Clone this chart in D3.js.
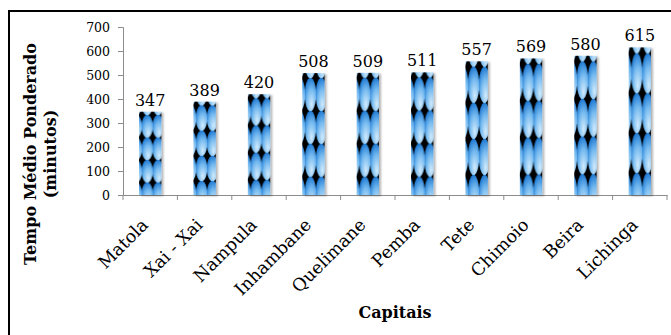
<!DOCTYPE html>
<html>
<head>
<meta charset="utf-8">
<script src="https://cdn.jsdelivr.net/npm/d3@7"></script>
<style>
  html, body { margin: 0; padding: 0; background: #fff; }
  svg { display: block; }
  text { font-family: "DejaVu Serif", "Liberation Serif", serif; fill: #000; }
</style>
</head>
<body>
<svg id="chart" width="671" height="335"></svg>
<script>
// Weighted mean time per provincial capital (minutes)
const capitais = ["Matola", "Xai - Xai", "Nampula", "Inhambane", "Quelimane",
                  "Pemba", "Tete", "Chimoio", "Beira", "Lichinga"];
const minutos = [347, 389, 420, 508, 509, 511, 557, 569, 580, 615];
const yTicks = [0, 100, 200, 300, 400, 500, 600, 700];

const svg = d3.select("#chart");
const W = 671, H = 335;
const margin = { left: 123, right: 4, top: 27, bottom: 140 };
const serif = "DejaVu Serif, Liberation Serif, serif";

const x = d3.scaleBand()
  .domain(capitais)
  .range([margin.left, W - margin.right])
  .paddingInner(0.59)
  .paddingOuter(0.295);

const y = d3.scaleLinear()
  .domain([0, 700])
  .range([H - margin.bottom, margin.top]);

const defs = svg.append("defs");

// Ellipse shading used inside the bar fill
const grad = defs.append("radialGradient")
  .attr("id", "gota")
  .attr("cx", 0.6).attr("cy", 0.72).attr("r", 0.75)
  .attr("fx", 0.6).attr("fy", 0.8);
grad.append("stop").attr("offset", "0%").attr("stop-color", "#d2ebfc");
grad.append("stop").attr("offset", "55%").attr("stop-color", "#74b9ef");
grad.append("stop").attr("offset", "100%").attr("stop-color", "#1874d0");

// Soft shadow to the right of each bar
const sh = defs.append("filter").attr("id", "sombra")
  .attr("x", "-20%").attr("y", "-5%").attr("width", "150%").attr("height", "115%");
sh.append("feDropShadow").attr("dx", 2).attr("dy", 1).attr("stdDeviation", 1.2)
  .attr("flood-color", "#000").attr("flood-opacity", 0.3);

// One stretched pattern per bar: two columns of shaded ellipses on black
const bw = x.bandwidth();
capitais.forEach((c, i) => {
  const top = y(minutos[i]);
  const bh = y(0) - top;
  const tw = bw * 0.49, th = bh * 0.27;
  const p = defs.append("pattern")
    .attr("id", "pad" + i)
    .attr("patternUnits", "userSpaceOnUse")
    .attr("x", x(c) + bw * 0.12)
    .attr("y", top + th * 0.15)
    .attr("width", tw)
    .attr("height", th);
  p.append("rect").attr("width", tw).attr("height", th).attr("fill", "#000");
  p.append("ellipse")
    .attr("cx", tw / 2).attr("cy", th / 2)
    .attr("rx", tw / 2 + 0.2).attr("ry", th / 2 + 0.3)
    .attr("fill", "url(#gota)");
});

// Outer frame
svg.append("rect")
  .attr("x", 9).attr("y", 11)
  .attr("width", 700).attr("height", 400)
  .attr("fill", "none").attr("stroke", "#000").attr("stroke-width", 2);

// Y axis
const yAxis = svg.append("g")
  .attr("transform", `translate(${margin.left},0)`)
  .call(d3.axisLeft(y).tickValues(yTicks).tickSize(5).tickPadding(8));
yAxis.select(".domain").attr("stroke", "#8c8c8c");
yAxis.selectAll(".tick line").attr("stroke", "#8c8c8c");
yAxis.selectAll(".tick text")
  .attr("font-family", serif)
  .attr("font-size", 12.5).attr("fill", "#000");

// X axis with ticks between categories
const xAxis = svg.append("g")
  .attr("transform", `translate(0,${y(0)})`)
  .call(d3.axisBottom(x).tickSize(0).tickFormat(""));
xAxis.select(".domain").attr("stroke", "#8c8c8c");
const step = x.step();
const bounds = d3.range(capitais.length + 1).map(k => margin.left + k * step);
xAxis.selectAll(".sep").data(bounds).join("line")
  .attr("class", "sep")
  .attr("x1", d => d).attr("x2", d => d)
  .attr("y1", 0).attr("y2", 5)
  .attr("stroke", "#8c8c8c");

// Bars
svg.append("g").selectAll("rect").data(capitais).join("rect")
  .attr("x", d => x(d))
  .attr("y", (d, i) => y(minutos[i]))
  .attr("width", bw)
  .attr("height", (d, i) => y(0) - y(minutos[i]))
  .attr("fill", (d, i) => `url(#pad${i})`)
  .attr("filter", "url(#sombra)");

// Value labels
svg.append("g").selectAll("text").data(capitais).join("text")
  .attr("x", d => x(d) + bw / 2)
  .attr("y", (d, i) => y(minutos[i]) - 6)
  .attr("text-anchor", "middle")
  .attr("font-size", 16)
  .text((d, i) => minutos[i]);

// Rotated category labels
svg.append("g").selectAll("text").data(capitais).join("text")
  .attr("text-anchor", "end")
  .attr("font-size", 17.5)
  .attr("transform", d => `translate(${x(d) + bw / 2 - 1},${y(0) + 31}) rotate(-45)`)
  .text(d => d);

// Axis titles
svg.append("text")
  .attr("text-anchor", "middle")
  .attr("font-size", 16).attr("font-weight", "bold")
  .attr("transform", `translate(36,154) rotate(-90)`)
  .text("Tempo Médio Ponderado");
svg.append("text")
  .attr("text-anchor", "middle")
  .attr("font-size", 16).attr("font-weight", "bold")
  .attr("transform", `translate(56,154) rotate(-90)`)
  .text("(minutos)");
svg.append("text")
  .attr("x", 395).attr("y", 318)
  .attr("text-anchor", "middle")
  .attr("font-size", 16).attr("font-weight", "bold")
  .text("Capitais");
</script>
</body>
</html>
